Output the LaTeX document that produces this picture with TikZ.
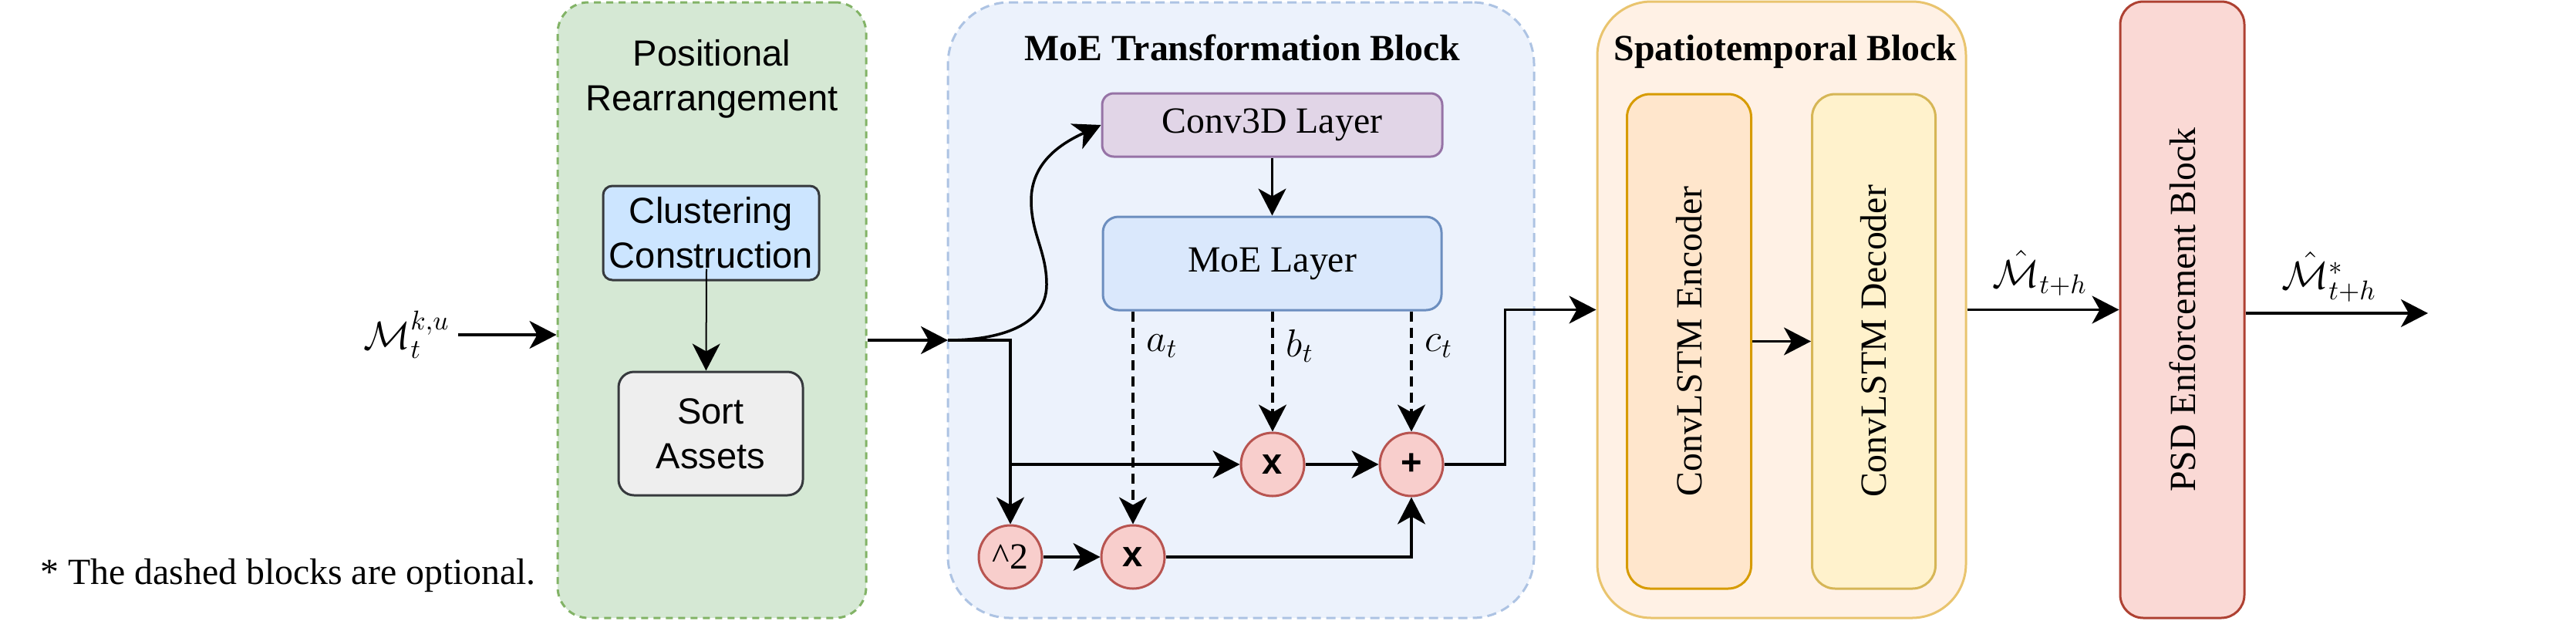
\documentclass[tikz,border=0pt]{standalone}
\usepackage{fontspec}
\setmainfont{Liberation Serif}
\setsansfont{Liberation Sans}
\usepackage{amsmath}
\usepackage{tikz}
\usetikzlibrary{arrows.meta, positioning, calc}
\usepackage{xcolor}
\definecolor{cPosF}{HTML}{D5E8D4}
\definecolor{cPosD}{HTML}{82B366}
\definecolor{cMoeF}{HTML}{ECF2FC}
\definecolor{cMoeD}{HTML}{ADC3E3}
\definecolor{cConvF}{HTML}{E1D5E7}
\definecolor{cConvD}{HTML}{9673A6}
\definecolor{cLayF}{HTML}{DAE8FC}
\definecolor{cLayD}{HTML}{6C8EBF}
\definecolor{cClu}{HTML}{CCE5FF}
\definecolor{cSort}{HTML}{EEEEEE}
\definecolor{cDark}{HTML}{36393D}
\definecolor{cOpF}{HTML}{F8CECC}
\definecolor{cOpD}{HTML}{B85450}
\definecolor{cStF}{HTML}{FFF1E5}
\definecolor{cStD}{HTML}{E9C46E}
\definecolor{cEncF}{HTML}{FFE6CC}
\definecolor{cEncD}{HTML}{D79B00}
\definecolor{cDecF}{HTML}{FFF2CC}
\definecolor{cDecD}{HTML}{D6B656}
\definecolor{cPsdF}{HTML}{FAD9D5}
\definecolor{cPsdD}{HTML}{AE4132}

\begin{document}
\begin{tikzpicture}[
  txt/.style={font=\fontsize{13.6}{17}\selectfont},
  stxt/.style={font=\sffamily\fontsize{13.4}{16.5}\selectfont},
  btxt/.style={font=\sffamily\bfseries\fontsize{13.4}{16.5}\selectfont},
  ttl/.style={font=\bfseries\fontsize{13.6}{17}\selectfont},
  arr/.style={line width=0.035cm, -{Stealth[length=0.35cm, width=0.36cm, inset=0.1cm]}},
  dsh/.style={arr, dash pattern=on 0.13cm off 0.08cm},
  blk/.style={line width=0.03cm, inner sep=0pt},
  box/.style={draw, line width=0.03cm, inner sep=0pt, align=center},
  opn/.style={circle, draw=cOpD, fill=cOpF, line width=0.03cm, minimum size=0.82cm, inner sep=0pt},
]
\useasboundingbox (0,0) rectangle (33.40,8.04);

% outer blocks
\node[blk, draw=cPosD, fill=cPosF, dash pattern=on 0.09cm off 0.07cm, rounded corners=0.4cm,
  minimum width=4.00cm, minimum height=7.98cm] (posblk) at (9.23,4.02) {};
\node[blk, draw=cMoeD, fill=cMoeF, dash pattern=on 0.12cm off 0.07cm, rounded corners=0.8cm,
  minimum width=7.60cm, minimum height=7.98cm] (moeblk) at (16.09,4.02) {};
\node[blk, draw=cStD, fill=cStF, rounded corners=0.7cm,
  minimum width=4.78cm, minimum height=7.99cm] (stblk) at (23.10,4.025) {};
\node[blk, draw=cPsdD, fill=cPsdF, rounded corners=0.3cm,
  minimum width=1.61cm, minimum height=7.99cm,
  label={[rotate=90, txt]center:PSD Enforcement Block}] (psd) at (28.295,4.025) {};

% titles
\node[stxt, align=center] (postit) at (9.23,7.02) {Positional\\Rearrangement};
\node[ttl] (moetit) at (16.11,7.42) {MoE Transformation Block};
\node[ttl] (sttit) at (23.15,7.37) {Spatiotemporal Block};

% positional rearrangement
\node[box, stxt, draw=cDark, fill=cClu, rounded corners=0.12cm,
  minimum width=2.80cm, minimum height=1.22cm] (clust) at (9.22,5.02) {Clustering\\Construction};
\node[box, stxt, draw=cDark, fill=cSort, rounded corners=0.2cm,
  minimum width=2.39cm, minimum height=1.60cm] (sort) at (9.215,2.42) {Sort\\Assets};
\draw[arr, line width=0.02cm] ([shift={(-0.06,0.16)}]clust.south) -- ([xshift=-0.06cm]sort.north);

% moe transformation
\node[box, txt, draw=cConvD, fill=cConvF, rounded corners=0.15cm,
  minimum width=4.41cm, minimum height=0.82cm] (conv) at (16.495,6.42) {Conv3D Layer};
\node[box, txt, draw=cLayD, fill=cLayF, rounded corners=0.2cm,
  minimum width=4.39cm, minimum height=1.21cm] (moel) at (16.495,4.625) {MoE Layer};
\draw[arr] (conv) -- (moel);

\node[opn, txt] (sq) at (13.10,0.82) {\textasciicircum 2};
\node[opn, btxt] (mulA) at (14.69,0.82) {x};
\node[opn, btxt] (mulB) at (16.50,2.02) {x};
\node[opn, btxt] (addn) at (18.30,2.02) {+};

\draw[dsh] (moel.south -| mulA) -- (mulA.north);
\draw[dsh] (moel.south -| mulB) -- (mulB.north);
\draw[dsh] (moel.south -| addn) -- (addn.north);
\node[txt, anchor=west, inner sep=0pt] (la) at ($(moel.south -| mulA)+(0.17,-0.45)$) {$a_t$};
\node[txt, anchor=west, inner sep=0pt] (lb) at ($(moel.south -| mulB)+(0.17,-0.45)$) {$b_t$};
\node[txt, anchor=west, inner sep=0pt] (lc) at ($(moel.south -| addn)+(0.17,-0.45)$) {$c_t$};

\coordinate (jin) at (12.29,3.63);
\draw[arr] (jin) to[out=0, in=-90] (13.57,4.35) to[out=90, in=-90] (13.37,5.44)
  to[out=90, in=205] (conv.west);
\draw[arr] (jin) -| (sq.north);
\draw[arr] (sq.north |- mulB.west) -- (mulB.west);
\draw[arr] (sq.east) -- (mulA.west);
\draw[arr] (mulA.east) -| (addn.south);
\draw[arr] (mulB.east) -- (addn.west);
\draw[arr] (addn.east) -- ++(0.79,0) |- (stblk.west);

% spatiotemporal
\node[box, draw=cEncD, fill=cEncF, rounded corners=0.3cm,
  minimum width=1.61cm, minimum height=6.41cm,
  label={[rotate=90, txt]center:ConvLSTM Encoder}] (enc) at (21.90,3.615) {};
\node[box, draw=cDecD, fill=cDecF, rounded corners=0.3cm,
  minimum width=1.60cm, minimum height=6.41cm,
  label={[rotate=90, txt]center:ConvLSTM Decoder}] (dec) at (24.295,3.615) {};
\draw[arr] (enc) -- (dec);

% inputs and outputs
\node[txt, anchor=east, inner sep=0.1cm] (min) at (5.94,3.70) {$\mathcal{M}_t^{k,u}$};
\draw[arr] (min.east) -- (min.east -| posblk.west);
\draw[arr] (jin -| posblk.east) -- (jin);
\draw[arr] (stblk.east) -- (psd.west);
\node[txt] (mhat) at (26.45,4.50) {$\hat{\mathcal{M}}_{t+h}$};
\coordinate (out) at (31.48,3.98);
\draw[arr] (psd.east |- out) -- (out);
\node[txt] (mstar) at (30.20,4.45) {$\hat{\mathcal{M}}^{*}_{t+h}$};

\node[txt, anchor=base west] (note) at (0.40,0.47) {* The dashed blocks are optional.};
\end{tikzpicture}
\end{document}
